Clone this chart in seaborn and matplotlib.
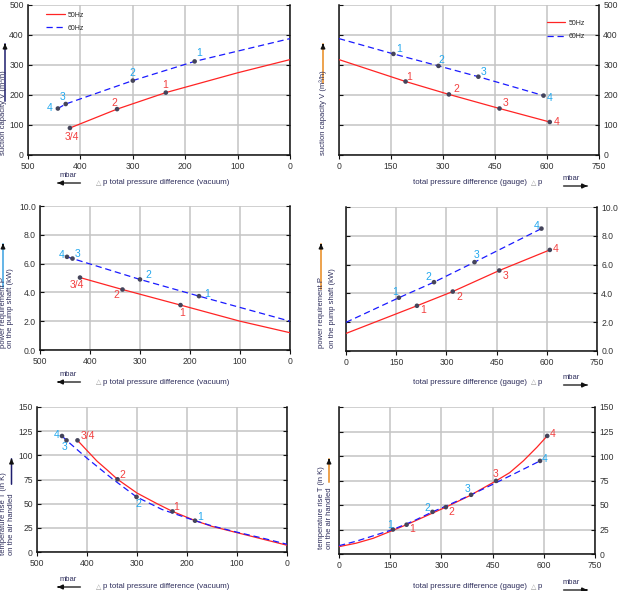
import numpy as np
import pandas as pd
import seaborn as sns
import matplotlib
matplotlib.use("Agg")
import matplotlib.pyplot as plt
from matplotlib.patches import FancyArrowPatch

# ---------------- data ----------------
# Panel A: suction capacity vs vacuum
vacV_50_line_x = [420, 330, 237, 100, 0]
vacV_50_line_y = [90, 153, 208, 274, 318]
vacV_60_line_x = [443, 428, 300, 182, 0]
vacV_60_line_y = [155, 170, 248, 312, 388]
vacV_50_pt_x = [420, 330, 237]
vacV_50_pt_y = [90, 153, 208]
vacV_50_lbl = ["3/4", "2", "1"]
vacV_60_pt_x = [443, 428, 300, 182]
vacV_60_pt_y = [155, 170, 248, 312]
vacV_60_lbl = ["4", "3", "2", "1"]

# Panel B: suction capacity vs gauge pressure
gauV_50_line_x = [0, 192, 317, 463, 608]
gauV_50_line_y = [318, 245, 202, 155, 110]
gauV_60_line_x = [0, 157, 287, 402, 590]
gauV_60_line_y = [388, 337, 297, 261, 198]
gauV_50_pt_x = [192, 317, 463, 608]
gauV_50_pt_y = [245, 202, 155, 110]
gauV_50_lbl = ["1", "2", "3", "4"]
gauV_60_pt_x = [157, 287, 402, 590]
gauV_60_pt_y = [337, 297, 261, 198]
gauV_60_lbl = ["1", "2", "3", "4"]

# Panel C: power vs vacuum
vacP_50_line_x = [420, 335, 219, 100, 0]
vacP_50_line_y = [5.03, 4.2, 3.12, 2.0, 1.2]
vacP_60_line_x = [446, 435, 300, 182, 0]
vacP_60_line_y = [6.47, 6.35, 4.9, 3.74, 2.0]
vacP_50_pt_x = [420, 335, 219]
vacP_50_pt_y = [5.03, 4.2, 3.12]
vacP_50_lbl = ["3/4", "2", "1"]
vacP_60_pt_x = [446, 435, 300, 182]
vacP_60_pt_y = [6.47, 6.35, 4.9, 3.74]
vacP_60_lbl = ["4", "3", "2", "1"]

# Panel D: power vs gauge pressure
gauP_50_line_x = [0, 212, 319, 458, 609]
gauP_50_line_y = [1.22, 3.14, 4.13, 5.59, 7.02]
gauP_60_line_x = [0, 158, 263, 384, 584]
gauP_60_line_y = [1.99, 3.7, 4.78, 6.17, 8.5]
gauP_50_pt_x = [212, 319, 458, 609]
gauP_50_pt_y = [3.14, 4.13, 5.59, 7.02]
gauP_50_lbl = ["1", "2", "3", "4"]
gauP_60_pt_x = [158, 263, 384, 584]
gauP_60_pt_y = [3.7, 4.78, 6.17, 8.5]
gauP_60_lbl = ["1", "2", "3", "4"]

# Panel E: temperature rise vs vacuum
vacT_50_line_x = [419, 400, 380, 360, 339, 300, 260, 229, 184, 150, 100, 50, 0]
vacT_50_line_y = [115.5, 105, 94, 85, 75.2, 61, 50, 42, 32.5, 26.5, 20, 13.5, 7]
vacT_60_line_x = [450, 441, 400, 350, 301, 250, 184, 150, 100, 50, 0]
vacT_60_line_y = [120, 115.5, 97, 76, 57, 44, 32.4, 27, 20.5, 14.5, 8]
vacT_50_pt_x = [419, 339, 229]
vacT_50_pt_y = [115.5, 75.2, 42]
vacT_50_lbl = ["3/4", "2", "1"]
vacT_60_pt_x = [450, 441, 301, 184]
vacT_60_pt_y = [120, 115.5, 57, 32.4]
vacT_60_lbl = ["4", "3", "2", "1"]

# Panel F: temperature rise vs gauge pressure
gauT_50_line_x = [0, 50, 100, 150, 198, 250, 313, 380, 460, 500, 540, 580, 610]
gauT_50_line_y = [7.5, 11, 16, 23, 29.9, 38, 47.8, 59, 74.6, 83, 95, 109, 120.5]
gauT_60_line_x = [0, 50, 100, 158, 220, 274, 330, 387, 450, 520, 589]
gauT_60_line_y = [8.5, 13, 18.5, 25, 34, 43, 51.5, 60.4, 71, 83, 95]
gauT_50_pt_x = [198, 313, 460, 610]
gauT_50_pt_y = [29.9, 47.8, 74.6, 120.5]
gauT_50_lbl = ["1", "2", "3", "4"]
gauT_60_pt_x = [158, 274, 387, 589]
gauT_60_pt_y = [25, 43, 60.4, 95]
gauT_60_lbl = ["1", "2", "3", "4"]

vac_ticks = [500, 400, 300, 200, 100, 0]
gau_ticks = [0, 150, 300, 450, 600, 750]
V_ticks = [0, 100, 200, 300, 400, 500]
P_ticks = [0, 2, 4, 6, 8, 10]
T_ticks = [0, 25, 50, 75, 100, 125, 150]

# ---------------- style ----------------
sns.set_theme(style="white")
plt.rcParams["font.family"] = ["Liberation Sans", "DejaVu Sans"]

RED = "#ff2424"
BLUE = "#1a1aff"
RED_LBL = "#f24040"
BLUE_LBL = "#22a8ee"
DOT = "#44445a"
TXT = "#2e2e5c"
GRID = "#c4c4c4"

W, H = 623, 591
fig = plt.figure(figsize=(W / 100, H / 100), dpi=100)


def fx(px):
    return px / W


def fy(py):
    return 1 - py / H


def make_ax(left, right, top, bottom):
    return fig.add_axes([fx(left), fy(bottom), (right - left) / W, (bottom - top) / H])


# offsets for point labels in pixels (dx, dy up)
panels = [
    dict(box=(28, 290, 5, 155), side="left", xt=vac_ticks, yt=V_ticks, yfmt="{:.0f}", leg=(0.06, 0.975),
         l50=(vacV_50_line_x, vacV_50_line_y), l60=(vacV_60_line_x, vacV_60_line_y),
         p50=(vacV_50_pt_x, vacV_50_pt_y, vacV_50_lbl), p60=(vacV_60_pt_x, vacV_60_pt_y, vacV_60_lbl),
         o50=[(2, -9), (-3, 6), (-1, 8)], o60=[(-8, 0), (-3, 7), (0, 8), (5, 8)]),
    dict(box=(339, 599, 5, 155), side="right", xt=gau_ticks, yt=V_ticks, yfmt="{:.0f}", leg=(0.79, 0.92),
         l50=(gauV_50_line_x, gauV_50_line_y), l60=(gauV_60_line_x, gauV_60_line_y),
         p50=(gauV_50_pt_x, gauV_50_pt_y, gauV_50_lbl), p60=(gauV_60_pt_x, gauV_60_pt_y, gauV_60_lbl),
         o50=[(4, 5), (7, 5), (6, 5), (7, 0)], o60=[(6, 5), (3, 6), (5, 5), (6, -2)]),
    dict(box=(40, 290, 206, 350), side="left", xt=vac_ticks, yt=P_ticks, yfmt="{:.1f}", leg=None,
         l50=(vacP_50_line_x, vacP_50_line_y), l60=(vacP_60_line_x, vacP_60_line_y),
         p50=(vacP_50_pt_x, vacP_50_pt_y, vacP_50_lbl), p60=(vacP_60_pt_x, vacP_60_pt_y, vacP_60_lbl),
         o50=[(-3, -7), (-6, -5), (2, -8)], o60=[(-5, 2), (5, 5), (8, 4), (8, 2)]),
    dict(box=(346, 597, 207, 351), side="right", xt=gau_ticks, yt=P_ticks, yfmt="{:.1f}", leg=None,
         l50=(gauP_50_line_x, gauP_50_line_y), l60=(gauP_60_line_x, gauP_60_line_y),
         p50=(gauP_50_pt_x, gauP_50_pt_y, gauP_50_lbl), p60=(gauP_60_pt_x, gauP_60_pt_y, gauP_60_lbl),
         o50=[(6, -4), (7, -5), (6, -5), (6, 1)], o60=[(-4, 6), (-6, 5), (2, 7), (-5, 3)]),
    dict(box=(37, 287, 407, 552), side="left", xt=vac_ticks, yt=T_ticks, yfmt="{:.0f}", leg=None,
         l50=(vacT_50_line_x, vacT_50_line_y), l60=(vacT_60_line_x, vacT_60_line_y),
         p50=(vacT_50_pt_x, vacT_50_pt_y, vacT_50_lbl), p60=(vacT_60_pt_x, vacT_60_pt_y, vacT_60_lbl),
         o50=[(10, 4), (5, 4), (4, 4)], o60=[(-5, 1), (-2, -7), (2, -7), (5, 4)]),
    dict(box=(339, 595, 407, 554), side="right", xt=gau_ticks, yt=T_ticks, yfmt="{:.0f}", leg=None,
         l50=(gauT_50_line_x, gauT_50_line_y), l60=(gauT_60_line_x, gauT_60_line_y),
         p50=(gauT_50_pt_x, gauT_50_pt_y, gauT_50_lbl), p60=(gauT_60_pt_x, gauT_60_pt_y, gauT_60_lbl),
         o50=[(6, -4), (6, -5), (0, 7), (5, 2)], o60=[(-3, 5), (-5, 4), (-4, 6), (5, 2)]),
]

for d in panels:
    ax = make_ax(*d["box"])
    ax.set_facecolor("white")
    sns.lineplot(x=d["l50"][0], y=d["l50"][1], ax=ax, color=RED, lw=0.9, sort=False,
                 estimator=None, label="50Hz", zorder=3)
    sns.lineplot(x=d["l60"][0], y=d["l60"][1], ax=ax, color=BLUE, lw=0.9, sort=False,
                 estimator=None, label="60Hz", linestyle=(0, (5, 3)), zorder=3)
    for key, col, offs in (("p50", RED_LBL, d["o50"]), ("p60", BLUE_LBL, d["o60"])):
        xs, ys, lbs = d[key]
        sns.scatterplot(x=xs, y=ys, ax=ax, color=DOT, s=11, edgecolor="none", zorder=5, legend=False)
        for x, y, lb, (dx, dy) in zip(xs, ys, lbs, offs):
            ax.annotate(lb, (x, y), xytext=(dx * 0.72, dy * 0.72), textcoords="offset points",
                        ha="center", va="center", color=col, fontsize=7.5, zorder=6)
    if d["side"] == "left":
        ax.set_xlim(500, 0)
    else:
        ax.set_xlim(0, 750)
    ax.set_xticks(d["xt"])
    ax.set_yticks(d["yt"])
    ax.set_ylim(d["yt"][0], d["yt"][-1])
    ax.set_yticklabels([d["yfmt"].format(v) for v in d["yt"]])
    ax.set_xlabel("")
    ax.set_ylabel("")
    ax.grid(True, color=GRID, lw=1.1)
    ax.set_axisbelow(True)
    for s in ("left", "right", "bottom"):
        ax.spines[s].set_visible(True)
        ax.spines[s].set_color("#111111")
        ax.spines[s].set_linewidth(1.1)
    ax.spines["top"].set_visible(False)
    ax.tick_params(axis="x", direction="out", length=3, width=0.8, colors="#111111",
                   labelsize=6.2, labelcolor="#333333", bottom=True, pad=2)
    lab_left = d["side"] == "left"
    ax.tick_params(axis="y", direction="in", length=3, width=0.8, colors="#111111",
                   labelsize=6.2, labelcolor="#333333", left=True, right=True,
                   labelleft=lab_left, labelright=not lab_left, pad=3)
    if d["leg"] is not None:
        ax.legend(loc="upper left", bbox_to_anchor=d["leg"], frameon=False, fontsize=5,
                  handlelength=2.6, labelspacing=0.9, borderaxespad=0, handletextpad=0.5)
    elif ax.get_legend() is not None:
        ax.get_legend().remove()


# ---------------- axis annotation text & arrows ----------------
def fig_arrow(x0, y0, x1, y1, body, head="#111111", lw=1.1):
    fig.add_artist(FancyArrowPatch((fx(x0), fy(y0)), (fx(x1), fy(y1)), transform=fig.transFigure,
                                   arrowstyle="-", color=body, lw=lw))
    dx, dy = x1 - x0, y1 - y0
    n = (dx ** 2 + dy ** 2) ** 0.5
    hx0, hy0 = x1 - 7 * dx / n, y1 - 7 * dy / n
    fig.add_artist(FancyArrowPatch((fx(hx0), fy(hy0)), (fx(x1), fy(y1)), transform=fig.transFigure,
                                   arrowstyle="-|>", mutation_scale=6, color=head, lw=lw))


def vtext(x, ybottom, s):
    fig.text(fx(x), fy(ybottom), s, rotation=90, rotation_mode="anchor", ha="left", va="center",
             fontsize=5.5, color=TXT)


ORANGE = "#e8891c"
NAVY = "#1e1e6e"

# y-axis descriptions
vtext(3.5, 155, "suction capacity V (m³/h)")
fig_arrow(5, 104, 5, 41, NAVY)
vtext(323, 155, "suction capacity V (m³/h)")
fig_arrow(323, 86, 323, 41, ORANGE)

vtext(3.5, 348, "power requirement P")
vtext(11, 348, "on the pump shaft (kW)")
fig_arrow(3, 290, 3, 241, "#3aa0e0")
vtext(321, 348, "power requirement P")
vtext(333, 348, "on the pump shaft (kW)")
fig_arrow(321, 292, 321, 241, ORANGE)

vtext(3.5, 555, "temperature rise T (in K)")
vtext(11.5, 555, "on the air handled")
fig_arrow(11.5, 487, 11.5, 456, NAVY)
vtext(321, 549, "temperature rise T (in K)")
vtext(330, 549, "on the air handled")
fig_arrow(329, 485, 329, 456, ORANGE)

# x-axis descriptions
for ymid in (183, 382, 587):
    fig.text(fx(68), fy(ymid - 4), "mbar", ha="center", va="bottom", fontsize=5.5, color=TXT)
    fig_arrow(83, ymid, 55, ymid, "#555555", lw=1.3)
    fig.text(fx(96), fy(ymid), "△", ha="left", va="center", fontsize=5, color="#999999",
             family=["DejaVu Sans"])
    fig.text(fx(103), fy(ymid), "p total pressure difference (vacuum)", ha="left", va="center",
             fontsize=5.7, color=TXT)

for ymid in (183, 382, 587):
    fig.text(fx(413), fy(ymid), "total pressure difference (gauge)", ha="left", va="center",
             fontsize=5.7, color=TXT)
    fig.text(fx(531), fy(ymid), "△", ha="left", va="center", fontsize=5, color="#999999",
             family=["DejaVu Sans"])
    fig.text(fx(538), fy(ymid), "p", ha="left", va="center", fontsize=5.7, color=TXT)
    fig.text(fx(571), fy(ymid - 1), "mbar", ha="center", va="bottom", fontsize=5.5, color=TXT)
    fig_arrow(561, ymid + 3, 590, ymid + 3, "#555555", lw=1.3)

fig.savefig("out.png", dpi=100, facecolor="white")
